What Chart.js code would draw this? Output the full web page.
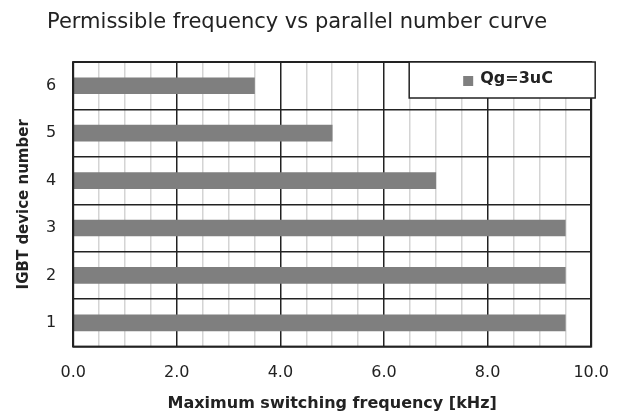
<!DOCTYPE html>
<html>
<head>
<meta charset="utf-8">
<script src="https://cdn.jsdelivr.net/npm/chart.js@4"></script>
<style>
  html, body { margin: 0; padding: 0; background: #fff; }
  #wrap { width: 626px; height: 416px; position: relative; }
</style>
</head>
<body>
<div id="wrap"><canvas id="c"></canvas></div>
<script>
const TITLE = 'Permissible frequency vs parallel number curve';
const categories = ['1', '2', '3', '4', '5', '6'];
const seriesName = 'Qg=3uC';
const seriesValues = [9.5, 9.5, 9.5, 7.0, 5.0, 3.5];
const xTitle = 'Maximum switching frequency [kHz]';
const yTitle = 'IGBT device number';
const xMin = 0, xMax = 10, xMajor = 2, xMinor = 0.5;

const FONT = 'Verdana, "DejaVu Sans", sans-serif';

const frameAndTitle = {
  id: 'frameAndTitle',
  afterDraw(chart) {
    const ctx = chart.ctx, a = chart.chartArea;
    ctx.save();
    // frame
    ctx.strokeStyle = '#222';
    ctx.lineWidth = 2;
    ctx.strokeRect(a.left, a.top, a.right - a.left, a.bottom - a.top);
    // title
    ctx.fillStyle = '#222';
    ctx.font = '21px ' + FONT;
    ctx.textBaseline = 'middle';
    ctx.textAlign = 'left';
    ctx.fillText(TITLE, 47, 23);
    // legend box
    const ds = chart.data.datasets[0];
    const w = 186, h = 36;
    const x = a.right - 182, y = a.top;
    ctx.fillStyle = '#fff';
    ctx.fillRect(x, y, w, h);
    ctx.strokeStyle = '#222';
    ctx.lineWidth = 1.5;
    ctx.strokeRect(x, y, w, h);
    ctx.font = 'bold 16px ' + FONT;
    const box = 10, gap = 7;
    const sx = x + 54;
    ctx.fillStyle = ds.backgroundColor;
    ctx.fillRect(sx, y + 14, box, box);
    ctx.fillStyle = '#222';
    ctx.fillText(ds.label, sx + box + gap, y + 17);
    ctx.restore();
  }
};

new Chart(document.getElementById('c'), {
  type: 'bar',
  data: {
    labels: categories,
    datasets: [{
      label: seriesName,
      data: seriesValues,
      backgroundColor: '#7f7f7f',
      borderWidth: 0,
      barThickness: 16
    }]
  },
  options: {
    indexAxis: 'y',
    responsive: true,
    maintainAspectRatio: false,
    animation: false,
    layout: { padding: { top: 62, right: 18, left: 15, bottom: 3 } },
    plugins: {
      legend: { display: false },
      title: { display: false },
      tooltip: { enabled: false }
    },
    scales: {
      x: {
        type: 'linear',
        min: xMin, max: xMax,
        border: { display: false },
        grid: {
          color: (c) => (Math.abs(c.tick.value % xMajor) < 1e-9 ? '#222' : '#d4d4d4'),
          lineWidth: 1.5,
          drawTicks: false
        },
        ticks: {
          stepSize: xMinor,
          autoSkip: false,
          maxRotation: 0,
          padding: 17,
          color: '#222',
          font: { family: FONT, size: 16 },
          callback: (v) => (Math.abs(v % xMajor) < 1e-9 ? Number(v).toFixed(1) : '')
        },
        title: {
          display: true,
          text: xTitle,
          color: '#222',
          font: { family: FONT, size: 16, weight: 'bold' },
          padding: { top: -6, bottom: 0 }
        }
      },
      y: {
        reverse: true,
        border: { display: false },
        grid: {
          offset: true,
          color: '#222',
          lineWidth: 1.5,
          drawTicks: false
        },
        ticks: {
          padding: 17,
          color: '#222',
          font: { family: FONT, size: 16 }
        },
        title: {
          display: true,
          text: yTitle,
          color: '#222',
          font: { family: FONT, size: 15, weight: 'bold' },
          padding: { top: 0, bottom: -4 }
        }
      }
    }
  },
  plugins: [frameAndTitle]
});
</script>
</body>
</html>
